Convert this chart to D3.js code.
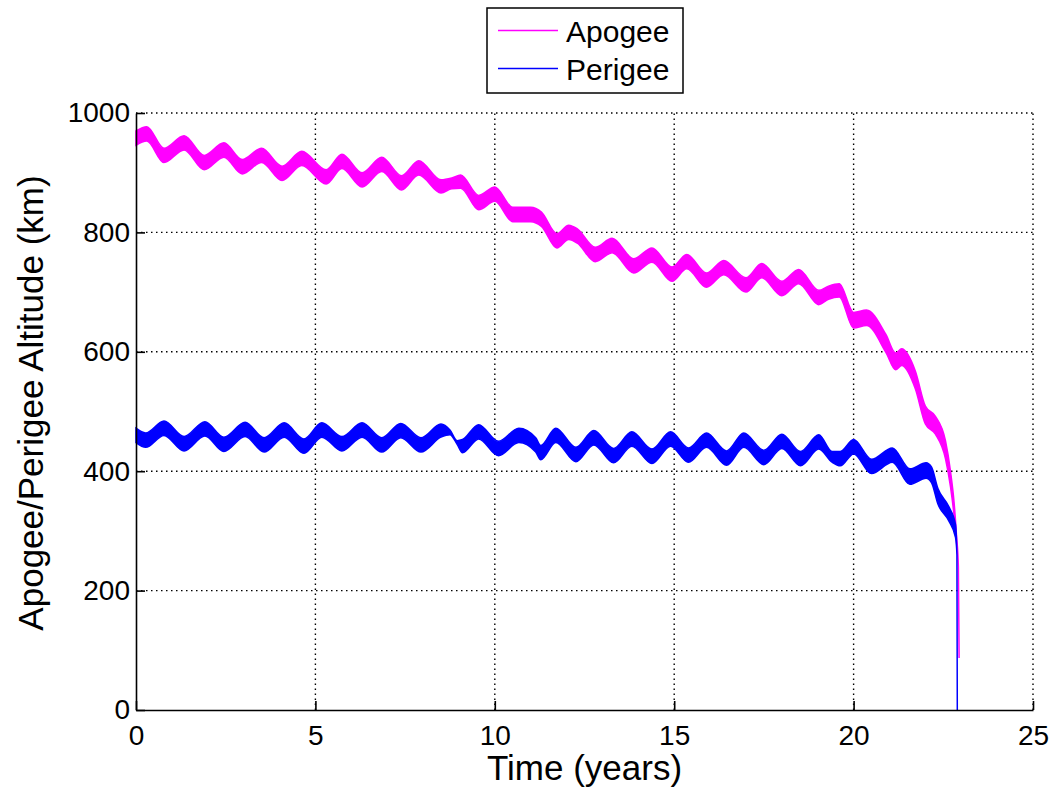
<!DOCTYPE html>
<html>
<head>
<meta charset="utf-8">
<script src="https://cdn.jsdelivr.net/npm/d3@7"></script>
<style>
  body { margin: 0; background: #fff; }
  svg { font-family: "Liberation Sans", Arial, Helvetica, sans-serif; }
</style>
</head>
<body>
<svg id="chart" width="1052" height="789"></svg>
<script>
// data (years, km); spread = half height of the noisy band
const apogeeT = [0, 0.3, 0.78, 1.34, 1.9, 2.45, 2.96, 3.5, 4.07, 4.62, 5.3, 5.74, 6.3, 6.85, 7.4, 7.88,
  8.5, 8.8, 9.05, 9.55, 10.0, 10.5, 11.0, 11.3, 11.73, 12.06, 12.3, 12.8, 13.27, 13.87, 14.38, 14.94,
  15.35, 15.9, 16.38, 17.0, 17.44, 18.0, 18.47, 19.03, 19.3, 19.6, 20.0, 20.36, 20.9, 21.17, 21.34,
  21.72, 22.0, 22.28, 22.56, 22.7, 22.8, 22.87, 22.92, 22.94];
const apogeeV = [958, 965, 929, 950, 917, 938, 910, 929, 899, 924, 893, 919, 888, 914, 883, 908,
  877, 882, 885, 850, 864, 830, 830, 822, 786, 800, 794, 763, 778, 744, 762, 730,
  751, 720, 741, 712, 736, 706, 726, 691, 699, 703, 653, 657, 614, 584, 591,
  553, 494, 477, 436, 387, 337, 285, 240, 87];
const apogeeSpread = [12, 12, 12, 12, 12, 12, 12, 12, 12, 12, 12, 12, 12, 12, 12, 12,
  11, 9, 11, 12, 12, 12, 12, 12, 12, 12, 12, 12, 12, 12, 12, 12,
  12, 12, 12, 12, 12, 12, 12, 12, 11, 11, 13, 13, 15, 14, 14,
  15, 15, 15, 15, 13, 11, 6, 0, 0];

const perigeeT = [0, 0.27, 0.78, 1.34, 1.92, 2.45, 3.04, 3.57, 4.13, 4.68, 5.18, 5.74, 6.3, 6.85, 7.38, 7.94,
  8.5, 8.75, 8.95, 9.1, 9.55, 10.1, 10.67, 11.14, 11.28, 11.7, 12.26, 12.76, 13.31, 13.82, 14.38, 14.9,
  15.4, 15.9, 16.46, 16.94, 17.5, 18.0, 18.52, 19.03, 19.4, 19.63, 20.0, 20.5, 21.08, 21.57, 22.02,
  22.17, 22.35, 22.65, 22.84, 22.88, 22.89];
const perigeeV = [460, 452, 472, 446, 471, 445, 470, 444, 469, 442, 469, 446, 469, 444, 468, 444,
  468, 465, 448, 442, 466, 438, 460, 444, 431, 460, 428, 456, 426, 454, 425, 454,
  427, 452, 422, 452, 423, 450, 421, 449, 424, 421, 441, 408, 427, 391, 401,
  394, 358, 329, 300, 260, 0];
const perigeeSpread = [12, 12, 12, 12, 12, 12, 12, 12, 12, 12, 12, 12, 12, 12, 12, 12,
  11, 4, 3, 11, 12, 12, 12, 12, 12, 12, 12, 12, 12, 12, 12, 12,
  12, 12, 12, 12, 12, 12, 12, 12, 9, 12, 12, 12, 12, 13, 13,
  13, 13, 12, 11, 0, 0];

const xTicks = [0, 5, 10, 15, 20, 25];
const yTicks = [0, 200, 400, 600, 800, 1000];
const seriesNames = ["Apogee", "Perigee"];
const seriesColors = ["#ff00ff", "#0000ff"];

const svg = d3.select("#chart");

const x = d3.scaleLinear().domain([0, 25]).range([136, 1033]);
const y = d3.scaleLinear().domain([0, 1000]).range([710, 113]);

// dotted grid
const grid = svg.append("g")
  .attr("stroke", "#000")
  .attr("stroke-width", 1.4)
  .attr("stroke-dasharray", "1.5,3.5");
grid.selectAll(".gx").data(xTicks.slice(1)).enter().append("line")
  .attr("x1", d => x(d)).attr("x2", d => x(d))
  .attr("y1", y(0)).attr("y2", y(1000));
grid.selectAll(".gy").data(yTicks.slice(1)).enter().append("line")
  .attr("x1", x(0)).attr("x2", x(25))
  .attr("y1", d => y(d)).attr("y2", d => y(d));

// the noisy curves are drawn as bands
function band(ts, vs, ss) {
  const pts = ts.map((t, i) => ({ t: t, v: vs[i], s: ss[i] }));
  return d3.area()
    .x(d => x(d.t))
    .y0(d => y(d.v - d.s))
    .y1(d => y(d.v + d.s))
    .curve(d3.curveMonotoneX)(pts);
}

svg.append("path")
  .attr("d", band(apogeeT, apogeeV, apogeeSpread))
  .attr("fill", seriesColors[0])
  .attr("stroke", seriesColors[0])
  .attr("stroke-width", 1.5);

svg.append("path")
  .attr("d", band(perigeeT, perigeeV, perigeeSpread))
  .attr("fill", seriesColors[1])
  .attr("stroke", seriesColors[1])
  .attr("stroke-width", 1.5);

// axes, ticks pointing inwards
const xAxis = svg.append("g")
  .attr("transform", "translate(0," + y(0) + ")")
  .call(d3.axisBottom(x).tickValues(xTicks).tickFormat(d3.format("d"))
    .tickSizeInner(-9).tickSizeOuter(0).tickPadding(15));
const yAxis = svg.append("g")
  .attr("transform", "translate(" + x(0) + ",0)")
  .call(d3.axisLeft(y).tickValues(yTicks).tickFormat(d3.format("d"))
    .tickSizeInner(-9).tickSizeOuter(0).tickPadding(6));

[xAxis, yAxis].forEach(a => {
  a.select(".domain").attr("stroke", "#000").attr("stroke-width", 1.6);
  a.selectAll(".tick line").attr("stroke", "#000").attr("stroke-width", 1.6);
  a.selectAll(".tick text").attr("fill", "#000").style("font-size", "28px")
    .style("font-family", '"Liberation Sans", Arial, sans-serif');
});

svg.append("text")
  .attr("x", (x(0) + x(25)) / 2)
  .attr("y", 780)
  .attr("text-anchor", "middle")
  .style("font-size", "35px")
  .text("Time (years)");

svg.append("text")
  .attr("transform", "translate(43," + 403 + ") rotate(-90)")
  .attr("text-anchor", "middle")
  .style("font-size", "35px")
  .text("Apogee/Perigee Altitude (km)");

// legend
const legend = svg.append("g");
legend.append("rect")
  .attr("x", 487).attr("y", 8).attr("width", 196).attr("height", 85)
  .attr("fill", "#fff").attr("stroke", "#000").attr("stroke-width", 1.5);
seriesNames.forEach((name, i) => {
  const ly = 30.5 + i * 38;
  legend.append("line")
    .attr("x1", 498).attr("x2", 558).attr("y1", ly).attr("y2", ly)
    .attr("stroke", seriesColors[i]).attr("stroke-width", 1.5);
  legend.append("text")
    .attr("x", 566).attr("y", ly + 11)
    .style("font-size", "30px")
    .text(name);
});
</script>
</body>
</html>
